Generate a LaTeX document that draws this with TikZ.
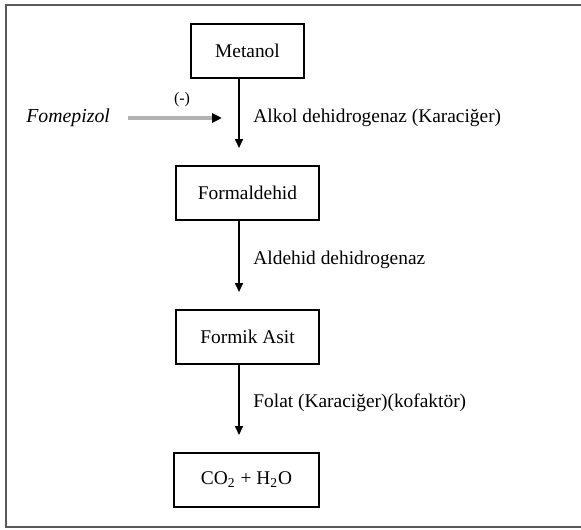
\documentclass[tikz,border=0pt]{standalone}
\usepackage{fontspec}
\setmainfont{Liberation Serif}
\usetikzlibrary{arrows.meta}
\begin{document}
\begin{tikzpicture}[
    x=0.5pt, y=-0.5pt,
    box/.style={draw, line width=1pt, minimum height=27pt, inner sep=0pt, font=\fontsize{9.7}{11}\selectfont},
    enzim/.style={anchor=west, inner sep=0pt, font=\fontsize{9.7}{11}\selectfont},
    flow/.style={-{Triangle[length=4.5pt, width=4pt]}, line width=0.8pt},
    engel/.style={-{Triangle[length=5pt, width=4.5pt, black]}, line width=2pt, gray!60}
]
\useasboundingbox (0,0) rectangle (581,529);
% cerceve
\draw[line width=1pt, black!65] (590,5) -- (6,5) -- (6,527) -- (590,527);

% kutular
\node[box, minimum width=56.5pt] (metanol) at (247.5,51) {Metanol};
\node[box, minimum width=71.5pt] (formaldehid) at (247.5,193) {Formaldehid};
\node[box, minimum width=71.5pt] (formik) at (247.5,337) {Formik Asit};
\node[box, minimum width=72.5pt] (son) at (246.5,479.5) {CO\textsubscript{2} + H\textsubscript{2}O};

% oklar
\coordinate (u1) at (239,148);
\coordinate (u2) at (239,292);
\coordinate (u3) at (239,435);
\draw[flow] (metanol.south -| u1) -- (u1);
\draw[flow] (formaldehid.south -| u2) -- (u2);
\draw[flow] (formik.south -| u3) -- (u3);

% enzimler
\node[enzim] (adh) at (253,118) {Alkol dehidrogenaz (Karaciğer)};
\node[enzim] (aldh) at (253,260) {Aldehid dehidrogenaz};
\node[enzim] (folat) at (253,403) {Folat (Karaciğer)(kofaktör)};

% inhibitor
\node[enzim, font=\fontsize{9.9}{11}\selectfont\itshape] (fomepizol) at (26,118) {Fomepizol};
\coordinate (f1) at (128,118);
\coordinate (f2) at (222,118);
\draw[engel] (f1) -- (f2);
\node[inner sep=0pt, font=\fontsize{8}{10}\selectfont] (eksi) at (182,100) {(-)};
\end{tikzpicture}
\end{document}
